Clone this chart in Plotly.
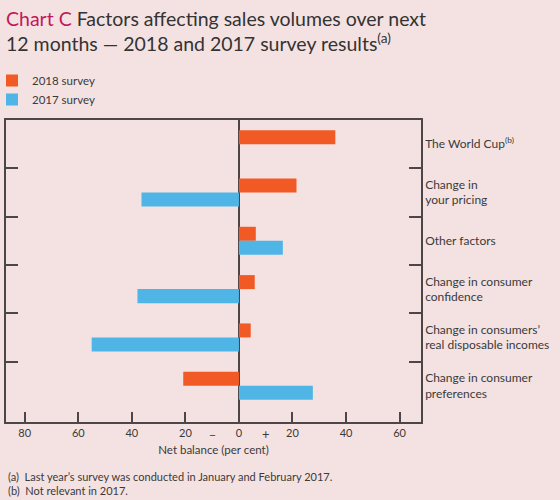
import plotly.graph_objects as go

categories = [
    "The World Cup<sup>(b)</sup>",
    "Change in<br>your pricing",
    "Other factors",
    "Change in consumer<br>confidence",
    "Change in consumers’<br>real disposable incomes",
    "Change in consumer<br>preferences",
]
survey_2018 = [36, 21.5, 6.3, 5.9, 4.4, -20.8]
survey_2017 = [None, -36.4, 16.4, -37.9, -55, 27.6]
x_tickvals = [-80, -60, -40, -20, 0, 20, 40, 60]
x_ticktext = ["80", "60", "40", "20", "0", "20", "40", "60"]

ORANGE = "#f15a24"
BLUE = "#4fb5e6"
BG = "#f4e2e2"
LINE = "#4d4646"
TXT = "#3a3a3a"
FONT = "Lato"

PLOT_LEFT, PLOT_RIGHT = 6, 421
PLOT_TOP, PLOT_BOTTOM = 120, 422


def py2paper(py):
    return (PLOT_BOTTOM - py) / (PLOT_BOTTOM - PLOT_TOP)


def px2paper(px):
    return (px - PLOT_LEFT) / (PLOT_RIGHT - PLOT_LEFT)


fig = go.Figure()
fig.add_trace(go.Bar(name="2018 survey", y=categories, x=survey_2018, orientation="h",
                     marker=dict(color=ORANGE, line=dict(width=0))))
fig.add_trace(go.Bar(name="2017 survey", y=categories, x=survey_2017, orientation="h",
                     marker=dict(color=BLUE, line=dict(width=0))))

fig.update_layout(
    width=560, height=500,
    paper_bgcolor=BG, plot_bgcolor=BG,
    margin=dict(l=PLOT_LEFT, r=560 - PLOT_RIGHT, t=PLOT_TOP, b=500 - PLOT_BOTTOM,
                autoexpand=False),
    barmode="group", bargap=0.42, bargroupgap=0,
    font=dict(family=FONT, size=11, color=TXT),
    title=dict(
        text='<span style="color:#c2185b">Chart C</span> Factors affecting sales volumes over next<br>'
             '12 months — 2018 and 2017 survey results<sup>(a)</sup>',
        x=6 / 560, xanchor="left", xref="container",
        y=1 - 26 / 500, yanchor="top", yref="container",
        font=dict(family=FONT, size=19.5, color="#333333"),
    ),
    showlegend=True,
    legend=dict(
        x=px2paper(-8), xanchor="left", xref="paper",
        y=py2paper(66), yanchor="top", yref="paper",
        bgcolor="rgba(0,0,0,0)", font=dict(size=11.5, color=TXT),
        traceorder="normal", itemwidth=30, tracegroupgap=0,
    ),
    xaxis=dict(
        range=[-87, 68], tickvals=x_tickvals, ticktext=x_ticktext,
        ticks="inside", ticklen=10, tickwidth=1.5, tickcolor=LINE,
        showline=True, linecolor=LINE, linewidth=1.5, mirror=True,
        showgrid=False, zeroline=True, zerolinecolor=LINE, zerolinewidth=1.5,
        tickfont=dict(size=11, color=TXT), automargin=False,
        title=dict(text="Net balance (per cent)", font=dict(size=11.5, color=TXT), standoff=8),
    ),
    yaxis=dict(
        type="category", categoryorder="array", categoryarray=categories,
        range=[5.75, -0.5], side="right",
        ticks="inside", ticklen=12, tickwidth=1.5, tickcolor=LINE, tickson="boundaries",
        showline=True, linecolor=LINE, linewidth=1.5, mirror="ticks",
        showgrid=False, zeroline=False, automargin=False,
        tickfont=dict(size=12, color=TXT),
    ),
    annotations=[
        dict(text="−", x=-10, xref="x", y=py2paper(434), yref="paper", yanchor="middle",
             showarrow=False, font=dict(size=12, color=TXT)),
        dict(text="+", x=10, xref="x", y=py2paper(434), yref="paper", yanchor="middle",
             showarrow=False, font=dict(size=13, color=TXT)),
        dict(text="(a)  Last year’s survey was conducted in January and February 2017.",
             x=0, xref="paper", xanchor="left", y=py2paper(476), yref="paper",
             yanchor="middle", showarrow=False, font=dict(size=11, color=TXT)),
        dict(text="(b)  Not relevant in 2017.",
             x=0, xref="paper", xanchor="left", y=py2paper(490), yref="paper",
             yanchor="middle", showarrow=False, font=dict(size=11, color=TXT)),
    ],
)

fig.write_html(
    "out.html",
    config={"displayModeBar": False},
    post_script="document.body.style.margin='0';document.body.style.background='%s';" % BG,
)
